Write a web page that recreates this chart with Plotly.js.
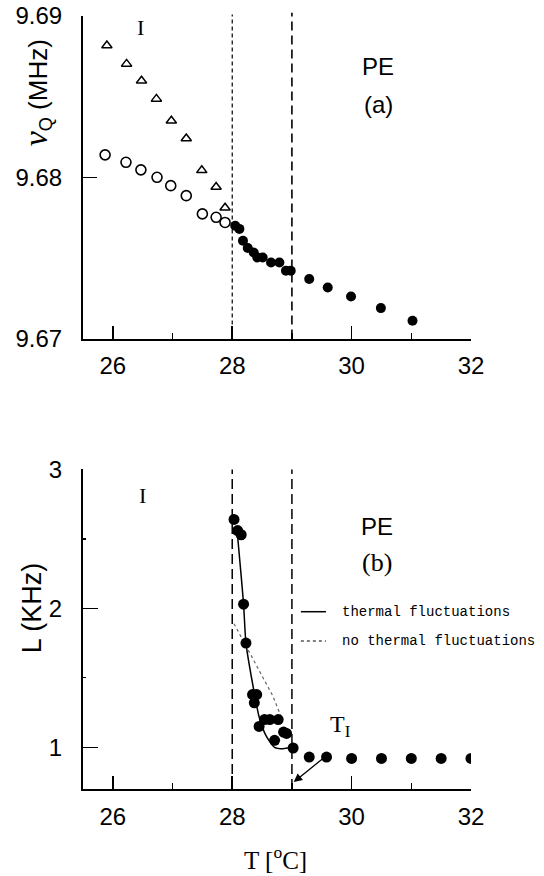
<!DOCTYPE html>
<html>
<head>
<meta charset="utf-8">
<script src="https://cdn.plot.ly/plotly-3.0.1.min.js"></script>
<style>html,body{margin:0;padding:0;background:#fff;}#chart{width:544px;height:876px;}</style>
</head>
<body>
<div id="chart"></div>
<script>
// ---- Panel (a): nu_Q (MHz) vs T ----
var triT = [25.90, 26.23, 26.48, 26.73, 26.98, 27.23, 27.49, 27.73, 27.88];
var triV = [9.68817, 9.68703, 9.68599, 9.68486, 9.68351, 9.68241, 9.68043, 9.67940, 9.67811];

var openT = [25.87, 26.22, 26.47, 26.74, 26.97, 27.23, 27.50, 27.73, 27.88];
var openV = [9.68139, 9.68093, 9.68046, 9.68000, 9.67948, 9.67886, 9.67773, 9.67752, 9.67720];

var fillT = [28.05, 28.12, 28.18, 28.26, 28.36, 28.42, 28.51, 28.65, 28.79, 28.90, 28.98, 29.29, 29.60, 29.99, 30.49, 31.02];
var fillV = [9.67700, 9.67680, 9.67607, 9.67562, 9.67534, 9.67503, 9.67503, 9.67472, 9.67472, 9.67420, 9.67420, 9.67369, 9.67317, 9.67261, 9.67189, 9.67110];

// ---- Panel (b): L (KHz) vs T ----
var lT = [28.03, 28.09, 28.15, 28.19, 28.23, 28.34, 28.41, 28.37, 28.45, 28.54, 28.63, 28.77, 28.71, 28.86, 28.91, 29.02, 29.29, 29.58, 30.00, 30.50, 31.00, 31.50, 32.00];
var lL = [2.64, 2.56, 2.53, 2.03, 1.75, 1.38, 1.38, 1.32, 1.15, 1.20, 1.20, 1.20, 1.05, 1.11, 1.10, 0.995, 0.93, 0.93, 0.92, 0.92, 0.92, 0.92, 0.92];

// fits
var thermT = [28.09, 28.19, 28.23, 28.37, 28.45, 28.57, 28.71, 28.85, 29.00];
var thermL = [2.52, 2.03, 1.75, 1.39, 1.22, 1.08, 1.00, 0.99, 1.00];
var noThermT = [28.03, 28.68, 28.82];
var noThermL = [1.89, 1.37, 1.22];

// reference lines
var phaseLines = [28, 29];

var txtFont = {family: 'Liberation Sans, Arial, sans-serif', size: 24, color: '#000'};
var serif = 'Liberation Serif, Times New Roman, serif';

var traces = [
  {x: triT, y: triV, xaxis: 'x', yaxis: 'y', mode: 'markers', type: 'scatter',
   marker: {symbol: 'triangle-up-open', size: 9, color: '#000', line: {width: 1.5, color: '#000'}}},
  {x: openT, y: openV, xaxis: 'x', yaxis: 'y', mode: 'markers', type: 'scatter',
   marker: {symbol: 'circle-open', size: 10, color: '#000', line: {width: 1.6, color: '#000'}}},
  {x: fillT, y: fillV, xaxis: 'x', yaxis: 'y', mode: 'markers', type: 'scatter',
   marker: {symbol: 'circle', size: 10, color: '#000'}},
  {x: thermT, y: thermL, xaxis: 'x2', yaxis: 'y2', mode: 'lines', type: 'scatter',
   line: {color: '#000', width: 1.5, shape: 'spline', smoothing: 0.6}},
  {x: noThermT, y: noThermL, xaxis: 'x2', yaxis: 'y2', mode: 'lines', type: 'scatter',
   line: {color: '#666', width: 1.2, dash: 'dot'}},
  {x: lT, y: lL, xaxis: 'x2', yaxis: 'y2', mode: 'markers', type: 'scatter',
   marker: {symbol: 'circle', size: 11, color: '#000'}}
];

function xAxis(anchor) {
  return {
    anchor: anchor, range: [25.5, 32], showgrid: false, zeroline: false,
    showline: true, linecolor: '#000', linewidth: 2, mirror: false,
    tickmode: 'array', tickvals: [26, 28, 30, 32], ticktext: ['26', '28', '30', '32'],
    ticks: 'inside', ticklen: 13, tickwidth: 1.5, tickcolor: '#000',
    minor: {tickmode: 'array', tickvals: [27, 29, 31], ticks: 'inside', ticklen: 6, tickwidth: 1.2, tickcolor: '#000'},
    tickfont: txtFont, ticklabelstandoff: 5
  };
}

var layout = {
  width: 544, height: 876,
  margin: {l: 83, r: 73, t: 16, b: 87},
  paper_bgcolor: '#fff', plot_bgcolor: '#fff',
  showlegend: false,
  xaxis: Object.assign(xAxis('y'), {domain: [0, 1]}),
  yaxis: {
    domain: [0.5827, 1], anchor: 'x', range: [9.67, 9.69], showgrid: false, zeroline: false,
    showline: true, linecolor: '#000', linewidth: 2,
    tickmode: 'array', tickvals: [9.67, 9.68, 9.69], ticktext: ['9.67', '9.68', '9.69'],
    ticks: 'inside', ticklen: 14, tickwidth: 1.5, tickcolor: '#000',
    tickfont: txtFont, ticklabelstandoff: 14
  },
  xaxis2: Object.assign(xAxis('y2'), {domain: [0, 1]}),
  yaxis2: {
    domain: [0, 0.4134], anchor: 'x2', range: [0.7, 3], showgrid: false, zeroline: false,
    showline: true, linecolor: '#000', linewidth: 2,
    tickmode: 'array', tickvals: [1, 2, 3], ticktext: ['1', '2', '3'],
    ticks: 'inside', ticklen: 15, tickwidth: 1.5, tickcolor: '#000',
    minor: {tickmode: 'array', tickvals: [1.5, 2.5], ticks: 'inside', ticklen: 3, tickwidth: 1.2, tickcolor: '#000'},
    tickfont: txtFont, ticklabelstandoff: 14
  },
  shapes: [],
  annotations: []
};

// vertical phase boundaries
layout.shapes.push({type: 'line', xref: 'x', yref: 'y domain', x0: phaseLines[0], x1: phaseLines[0], y0: 0, y1: 1.005,
  line: {color: '#000', width: 1.2, dash: '4px,3px'}});
layout.shapes.push({type: 'line', xref: 'x', yref: 'y domain', x0: phaseLines[1], x1: phaseLines[1], y0: 0, y1: 1.01,
  line: {color: '#000', width: 1.6, dash: '9px,5px'}});
phaseLines.forEach(function (p) {
  layout.shapes.push({type: 'line', xref: 'x2', yref: 'y2 domain', x0: p, x1: p, y0: 0, y1: 1,
    line: {color: '#000', width: 1.5, dash: '10px,5px'}});
});

// legend samples (panel b)
layout.shapes.push({type: 'line', xref: 'x2', yref: 'y2', x0: 29.15, x1: 29.57, y0: 1.976, y1: 1.976,
  line: {color: '#000', width: 1.5}});
layout.shapes.push({type: 'line', xref: 'x2', yref: 'y2', x0: 29.15, x1: 29.57, y0: 1.765, y1: 1.765,
  line: {color: '#555', width: 1.5, dash: 'dot'}});

var A = layout.annotations;
var mono = {family: 'Liberation Mono, DejaVu Sans Mono, monospace', size: 14, color: '#000'};
A.push({xref: 'x2', yref: 'y2', x: 29.80, y: 1.976, text: 'thermal fluctuations', showarrow: false, xanchor: 'left', yanchor: 'middle', font: mono});
A.push({xref: 'x2', yref: 'y2', x: 29.80, y: 1.765, text: 'no thermal fluctuations', showarrow: false, xanchor: 'left', yanchor: 'middle', font: mono});

// panel labels
A.push({xref: 'x', yref: 'y', x: 26.46, y: 9.6893, text: 'I', showarrow: false, font: {family: serif, size: 22, color: '#000'}});
A.push({xref: 'x', yref: 'y', x: 30.45, y: 9.6869, text: 'PE', showarrow: false, font: txtFont});
A.push({xref: 'x', yref: 'y', x: 30.45, y: 9.6845, text: '(a)', showarrow: false, font: txtFont});
A.push({xref: 'x2', yref: 'y2', x: 26.50, y: 2.81, text: 'I', showarrow: false, font: {family: serif, size: 22, color: '#000'}});
A.push({xref: 'x2', yref: 'y2', x: 30.43, y: 2.59, text: 'PE', showarrow: false, font: txtFont});
A.push({xref: 'x2', yref: 'y2', x: 30.43, y: 2.33, text: '(b)', showarrow: false, font: {family: serif, size: 26, color: '#000'}});

// T_I label and arrow
A.push({xref: 'x2', yref: 'y2', x: 29.60, y: 1.15, text: 'T<sub>I</sub>', showarrow: false, xanchor: 'left', font: {family: serif, size: 24, color: '#000'}});
A.push({xref: 'x2', yref: 'y2', axref: 'x2', ayref: 'y2', x: 29.03, y: 0.75, ax: 29.55, ay: 0.93, text: '',
  showarrow: true, arrowhead: 2, arrowsize: 1.3, arrowwidth: 1.3, arrowcolor: '#000'});

// axis titles
A.push({xref: 'paper', yref: 'paper', x: -0.121, y: 0.90, xanchor: 'center', yanchor: 'middle', textangle: -90, showarrow: false,
  text: '<span style="font-family:Liberation Serif,serif;font-style:italic;font-size:34px">ν</span><sub>Q</sub> (MHz)',
  font: {family: 'Liberation Sans, Arial, sans-serif', size: 26, color: '#000'}});
A.push({xref: 'paper', yref: 'paper', x: -0.131, y: 0.234, xanchor: 'center', yanchor: 'middle', textangle: -90, showarrow: false,
  text: 'L (KHz)', font: {family: 'Liberation Sans, Arial, sans-serif', size: 27, color: '#000'}});
A.push({xref: 'paper', yref: 'paper', x: 0.495, y: -0.089, xanchor: 'center', yanchor: 'middle', showarrow: false,
  text: 'T [<sup>o</sup>C]', font: {family: serif, size: 25, color: '#000'}});

Plotly.newPlot('chart', traces, layout, {displayModeBar: false, staticPlot: true});
</script>
</body>
</html>
